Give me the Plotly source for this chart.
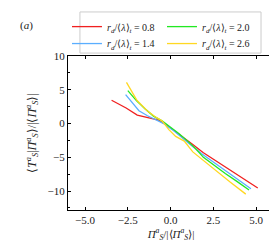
import plotly.graph_objects as go

labels = ["0.8", "1.4", "2.0", "2.6"]
colors = ["#f02020", "#5aaeff", "#22e822", "#ffd822"]
legend_ids = ["legend", "legend2", "legend", "legend2"]

x_08 = [-3.45, -2.6, -1.95, -1.2, -0.7, -0.2, 0.3, 0.8, 1.3, 1.9, 2.5, 3.2, 4.0, 5.1]
y_08 = [3.45, 2.3, 1.25, 0.8, 0.5, -0.3, -1.2, -2.2, -3.1, -4.3, -5.3, -6.4, -7.7, -9.55]

x_14 = [-2.63, -2.2, -1.85, -1.35, -0.9, -0.4, 0.1, 0.6, 1.2, 1.8, 2.5, 3.3, 4.0, 4.7]
y_14 = [4.28, 3.0, 1.9, 1.15, 0.6, 0.0, -0.9, -1.9, -3.2, -4.45, -5.7, -7.15, -8.4, -9.66]

x_20 = [-2.5, -2.0, -1.5, -1.0, -0.5, 0.0, 0.5, 1.0, 1.5, 1.92, 2.5, 3.2, 3.9, 4.59]
y_20 = [4.88, 3.4, 2.2, 1.1, 0.4, -0.5, -1.5, -2.6, -3.8, -5.0, -6.1, -7.4, -8.6, -9.85]

x_26 = [-2.58, -2.3, -1.96, -1.37, -0.9, -0.5, -0.1, 0.3, 0.8, 1.3, 1.92, 2.6, 3.5, 4.4]
y_26 = [6.1, 4.8, 3.4, 1.9, 1.0, 0.4, -0.9, -1.9, -2.6, -4.2, -5.5, -6.9, -8.7, -10.45]

xs = [x_08, x_14, x_20, x_26]
ys = [y_08, y_14, y_20, y_26]

FONT = "Liberation Serif"
TXT = "#222"

fig = go.Figure()
for lab, c, lg, x, y in zip(labels, colors, legend_ids, xs, ys):
    fig.add_trace(go.Scatter(
        x=x, y=y, mode="lines", line=dict(color=c, width=1.3),
        name=f"<i>r<sub>d</sub></i>/⟨<i>λ</i>⟩<sub><i>t</i></sub> = {lab}",
        legend=lg,
    ))

axis_common = dict(
    showgrid=False, zeroline=False, showline=True, linecolor="black", linewidth=1,
    mirror="ticks", ticks="inside", ticklen=3, tickcolor="black", tickwidth=1,
    tickfont=dict(family=FONT, size=11, color=TXT),
)

fig.update_xaxes(
    range=[-6.0, 6.05], tickvals=[-5, -2.5, 0, 2.5, 5],
    ticktext=["−5.0", "−2.5", "0.0", "2.5", "5.0"],
    title=dict(text="<i>Π</i><sup><i>a</i></sup><sub><i>S</i></sub>/|⟨<i>Π</i><sup><i>a</i></sup><sub><i>S</i></sub>⟩|",
               font=dict(family=FONT, size=11, color=TXT), standoff=2),
    **axis_common,
)
fig.update_yaxes(
    range=[-12.8, 10], tickvals=[-10, -5, 0, 5, 10],
    ticktext=["−10", "−5", "0", "5", "10"],
    minor=dict(dtick=2.5, tick0=0, ticks="inside", ticklen=2, tickcolor="black"),
    title=dict(text="⟨<i>T</i><sup><i>a</i></sup><sub><i>S</i></sub>|<i>Π</i><sup><i>a</i></sup><sub><i>S</i></sub>⟩/|⟨<i>Π</i><sup><i>a</i></sup><sub><i>S</i></sub>⟩|",
               font=dict(family=FONT, size=12, color=TXT), standoff=8),
    **axis_common,
)

leg_common = dict(
    orientation="h", xref="paper", yref="paper", xanchor="left", yanchor="top",
    bgcolor="rgba(0,0,0,0)", borderwidth=0,
    font=dict(family=FONT, size=10, color=TXT),
    itemwidth=30, tracegroupgap=0, entrywidth=50,
)

fig.update_layout(
    width=277, height=247,
    margin=dict(l=60, r=11, t=48, b=45, autoexpand=False),
    paper_bgcolor="white", plot_bgcolor="white",
    showlegend=True,
    legend=dict(x=-0.005, y=1.285, **leg_common),
    legend2=dict(x=-0.005, y=1.175, **leg_common),
    shapes=[dict(type="rect", xref="paper", yref="paper",
                 x0=0.058, x1=0.937, y0=1.019, y1=1.286,
                 line=dict(color="#cccccc", width=1), fillcolor="white", layer="below")],
    annotations=[dict(text="(<i>a</i>)", x=-0.2, y=1.2, xref="paper", yref="paper",
                      xanchor="center", yanchor="middle", showarrow=False,
                      font=dict(family=FONT, size=11, color=TXT))],
)

fig.write_html("out.html")
